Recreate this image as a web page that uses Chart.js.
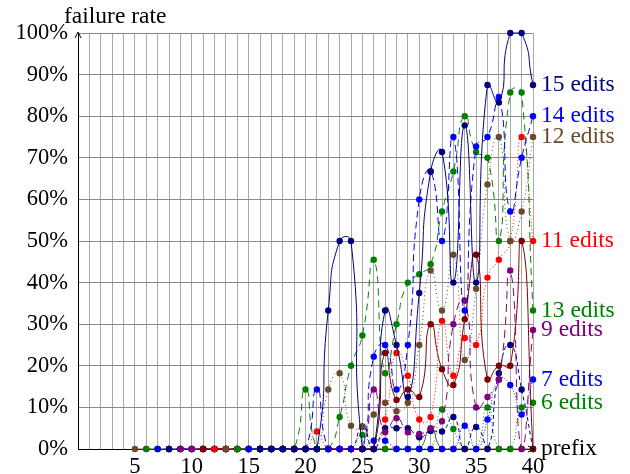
<!DOCTYPE html>
<html>
<head>
<meta charset="utf-8">
<script src="https://cdn.jsdelivr.net/npm/chart.js@4.4.1/dist/chart.umd.min.js"></script>
<style>
  html, body { margin: 0; padding: 0; background: #fff; }
  canvas { display: block; }
</style>
</head>
<body>
<canvas id="failureChart" width="630" height="474"></canvas>
<script>
// prefix length (x axis)
const prefixes = [5, 6, 7, 8, 9, 10, 11, 12, 13, 14, 15, 16, 17, 18, 19, 20, 21, 22, 23, 24,
                  25, 26, 27, 28, 29, 30, 31, 32, 33, 34, 35, 36, 37, 38, 39, 40];

// failure rate in %, one value per prefix (null = not measured)
//               5 ...                   10 ...                   15 ...                 20 ...                        25 ...                      30 ...                          35 ...                        40
const edits5  = [0, 0, 0, 0, 0,          0, 0, 0, 0, 0,           0, 0, 0, 0, 0,         0, 0, 0, 0, 0,                0, 0, 0, 0, 0,              0, 4.8, 0, 0, 0,                0, 0, 0, 0, 0,                0];
const edits6  = [null, 0, 0, 0, 0,       0, 0, 0, 0, 0,           0, 0, 0, 0, 0,         0, 0, 0, 0, 0,                3.4, 0, 0, 0, 0,            0, 0, 9.5, 4.8, 0,              0, 10, 0, 0, 10,              11.1];
const edits7  = [null, null, 0, 0, 0,    0, 0, 0, 0, 0,           0, 0, 0, 0, 0,         0, 0, 0, 0, 0,                0, 2, 2, 0, 0,              0, 0, 0, 0, 5.6,                0, 7.1, 16.7, 15.4, 8.3,      16.7];
const edits8  = [null, null, null, 0, 0, 0, 0, 0, 0, 0,           0, 0, 0, 0, 0,         0, 0, 0, 0, 0,                5.4, 0, 5, 5, 5,            2.8, 4.3, 4.2, 7.7, 0,          5.3, 0, 18.2, 25, 14.3,       0];
const edits9  = [null, null, null, null, 0, 0, 0, 0, 0, 0,        0, 0, 0, 0, 0,         0, 0, 0, 0, 0,                0, 14.3, 4, 7.4, 4,         3.6, 5, 6.7, 30, 35.7,          10, 12.5, 16.7, 42.9, 0,      28.6];
const edits10 = [null, null, null, null, null, null, 0, 0, 0, 0,  0, 0, 0, 0, 0,         0, 0, 0, 0, 0,                0, 0, 23.1, 11.8, 14.3,     12.5, 30, 19.2, 15.4, 31.2,     46.7, 16.7, 20, 20, 50,       0];
const edits11 = [null, null, null, null, null, null, null, 0, 0, 0, 0, 0, 0, 0, 0,       0, 4.2, 0, 0, 0,              0, 0, 7.1, 23.1, 17.6,      7.1, 7.7, 30.8, 17.6, 26.7,     25, 41.2, 45.5, 50, 75,       50];
const edits12 = [null, null, null, null, null, null, null, null, 0, 0, 0, 0, 0, 0, 0,    0, 0, 14.3, 18.2, 5.6,        5.3, 8.3, 11.1, 9.1, 11.1,  25, 42.9, 33.3, 46.7, 21.4,     38.5, 63.6, 75, 50, 57.1,     75];
const edits13 = [null, null, null, null, null, null, null, null, null, 0, 0, 0, 0, 0, 0,  14.3, 0, 0, 7.7, 20,          27.3, 45.5, 18.2, 30, 40,   42, 44.4, 57.1, 66.7, 80,       71.4, 70, 50, 85.7, 85.7,     33.3];
const edits14 = [null, null, null, null, null, null, null, null, null, null, 0, 0, 0, 0, 0, 0, 14.3, 0, 0, 0,         0, 22.2, 25, 14.3, 25,      60, 66.7, 50, 75, 33.3,         72.7, 75, 84.6, 57.1, 70,     80];
const edits15 = [null, null, null, null, null, null, null, null, null, null, null, 0, 0, 0, 0, 0, 0, 33.3, 50, 50,    0, 0, 33.3, 25, 12.5,       37.5, 66.7, 71.4, 40, 77.8,     40, 87.5, 83.3, 100, 100,     87.5];

const yTicks = [0, 10, 20, 30, 40, 50, 60, 70, 80, 90, 100];
const xTickLabels = [5, 10, 15, 20, 25, 30, 35, 40];

const NAVY = '#00007f', BLUE = '#0000ff', GREEN = '#008000', BROWN = '#6b4a2b',
      RED = '#ff0000', DARKRED = '#800000', PURPLE = '#800080';
const SERIF = '"Liberation Serif", "Times New Roman", serif';

function toPoints(values) {
  const pts = [];
  values.forEach((v, i) => { if (v !== null) pts.push({ x: prefixes[i], y: v }); });
  return pts;
}

function series(n, values, color, dash, label) {
  return {
    label: n + ' edits',
    endLabel: label,
    data: toPoints(values),
    borderColor: color,
    backgroundColor: color,
    borderWidth: 1,
    borderDash: dash,
    pointRadius: 3.2,
    pointBorderWidth: 0,
    pointBackgroundColor: color,
    tension: 0.6,
    clip: false,
    order: 20 - n
  };
}

const datasets = [
  series(5, edits5, BROWN, [], null),
  series(6, edits6, GREEN, [1, 2.5], '6 edits'),
  series(7, edits7, BLUE, [1, 2], '7 edits'),
  series(8, edits8, NAVY, [4, 3], null),
  series(9, edits9, PURPLE, [8, 5], '9 edits'),
  series(10, edits10, DARKRED, [], null),
  series(11, edits11, RED, [1, 2.5], '11 edits'),
  series(12, edits12, BROWN, [1, 3], '12 edits'),
  series(13, edits13, GREEN, [7, 5], '13 edits'),
  series(14, edits14, BLUE, [7, 4], '14 edits'),
  series(15, edits15, NAVY, [], '15 edits')
];

// end-of-line labels, axis titles and axis arrows
const decorations = {
  id: 'decorations',
  afterDatasetsDraw(chart) {
    const { ctx, scales: { x, y } } = chart;
    ctx.save();
    ctx.font = '23.5px ' + SERIF;
    ctx.textBaseline = 'middle';
    ctx.textAlign = 'left';
    chart.data.datasets.forEach(ds => {
      if (!ds.endLabel) return;
      const last = ds.data[ds.data.length - 1];
      ctx.fillStyle = ds.borderColor;
      ctx.fillText(ds.endLabel, x.getPixelForValue(last.x) + 8, y.getPixelForValue(last.y));
    });
    ctx.fillStyle = '#000';
    ctx.fillText('failure rate', 64, 17);
    ctx.fillText('prefix', x.right + 8, y.bottom);

    ctx.strokeStyle = '#000';
    ctx.lineWidth = 1;
    ctx.beginPath();
    ctx.moveTo(x.left - 3, y.top + 5);
    ctx.lineTo(x.left, y.top - 1);
    ctx.lineTo(x.left + 3, y.top + 5);
    ctx.moveTo(x.right - 5, y.bottom - 3);
    ctx.lineTo(x.right + 1, y.bottom);
    ctx.lineTo(x.right - 5, y.bottom + 3);
    ctx.stroke();
    ctx.restore();
  }
};

const ctx = document.getElementById('failureChart').getContext('2d');
const failureChart = new Chart(ctx, {
  type: 'line',
  data: { datasets: datasets },
  options: {
    responsive: false,
    animation: false,
    layout: { padding: { left: 0, top: 33, right: 97, bottom: 0 } },
    plugins: {
      legend: { display: false },
      tooltip: { enabled: false },
      title: { display: false }
    },
    scales: {
      x: {
        type: 'linear',
        min: 0,
        max: 40,
        afterFit: scale => { scale.height = 25; },
        afterBuildTicks: scale => {
          const t = [];
          for (let v = 0; v <= 40; v++) t.push({ value: v });
          scale.ticks = t;
        },
        ticks: {
          autoSkip: false,
          maxRotation: 0,
          padding: 5,
          color: '#000',
          font: { family: SERIF, size: 22.5 },
          callback: v => (xTickLabels.includes(v) ? String(v) : '')
        },
        grid: { color: '#a8a8a8', lineWidth: 1, drawTicks: false },
        border: { color: '#000', width: 1 }
      },
      y: {
        min: 0,
        max: 100,
        afterFit: scale => { scale.width = 78; },
        afterBuildTicks: scale => { scale.ticks = yTicks.map(v => ({ value: v })); },
        ticks: {
          padding: 10,
          color: '#000',
          font: { family: SERIF, size: 22.5 },
          callback: v => v + '%'
        },
        grid: { color: '#888888', lineWidth: 1, drawTicks: false },
        border: { color: '#000', width: 1 }
      }
    }
  },
  plugins: [decorations]
});
</script>
</body>
</html>
